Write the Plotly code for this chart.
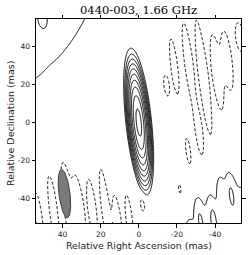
import numpy as np
import plotly.graph_objects as go

# ---- data ----
title_text = "0440-003, 1.66 GHz"
x_title = "Relative Right Ascension (mas)"
y_title = "Relative Declination (mas)"
x_tick_vals = [40, 20, 0, -20, -40]
x_tick_text = ["40", "20", "0", "-20", "-40"]
y_tick_vals = [40, 20, 0, -20, -40]
y_tick_text = ["40", "20", "0", "-20", "-40"]

# contour levels: base * 2^k (solid) and -base (dashed)
base_level = 1.0
n_pos_levels = 10

# image model components: RA, Dec (mas), amplitude (base units), sigma major/minor (mas), PA (deg)
comp_ra   = [0.0,   110.0, -106.0, 50.5,
             -32.2, -39.0, -43.0, -48.4, -27.0,
             -18.5, -14.5, -25.8, -34.0, -41.0, -46.5, -53.0, -31.8, -26.0, -21.5,
             52.5, 45.0, 37.5, 31.0, 24.5, 17.5, 11.0, 4.8, -2.0]
comp_dec  = [0.0,   95.0, -119.7, 55.0,
             -51.0, -50.0, -36.5, -37.0, -54.0,
             30.0, 19.5, 33.0, 23.0, 26.0, 32.5, 45.0, -7.0, -15.5, -35.0,
             -50.0, -45.0, -40.0, -45.0, -45.0, -45.0, -52.0, -52.0, -43.5]
comp_amp  = [650.0, 2.70, 7.39, 2.2,
             1.2, 1.2, 1.2, 1.2, 0.6,
             -2.0, -1.9, -2.0, -2.0, -2.0, -2.0, -2.0, -1.9, -1.9, -1.9,
             -1.9, -1.9, -1.9, -1.9, -1.9, -1.9, -1.9, -1.9, -1.9]
comp_smaj = [10.4, 64.6, 50.0, 3.5,
             7.0, 7.0, 7.0, 7.0, 1.8,
             15.0, 5.8, 20.0, 31.0, 19.0, 14.5, 7.0, 11.0, 7.5, 3.0,
             14.0, 19.0, 22.0, 17.0, 16.0, 22.0, 14.0, 15.0, 3.8]
comp_smin = [1.83, 64.6, 50.0, 1.5,
             1.6, 1.6, 1.6, 1.6, 1.2,
             1.8, 1.4, 2.0, 2.2, 2.2, 2.2, 2.0, 1.6, 1.3, 0.8,
             1.8, 2.0, 2.5, 2.0, 2.0, 2.0, 1.8, 1.8, 1.2]
comp_pa   = [6.0, 0.0, 0.0, 7.0,
             7.0, 7.0, 7.0, 7.0, 7.0,
             7.0, 7.0, 7.0, 7.0, 7.0, 7.0, 7.0, 7.0, 7.0, 7.0,
             7.0, 7.0, 7.0, 7.0, 7.0, 7.0, 7.0, 7.0, 7.0]

# restoring beam
beam_ra, beam_dec = 39.0, -37.4
beam_major, beam_minor, beam_pa = 25.6, 5.8, 7.0

x_range = [53.9, -53.6]
y_range = [-52.9, 54.5]

# ---- image from the components ----
xg = np.arange(-56.0, 56.01, 0.25)
yg = np.arange(-56.0, 56.01, 0.4)
X, Y = np.meshgrid(xg, yg)
Z = np.zeros_like(X)
for ra0, de0, a, smj, smn, pa in zip(comp_ra, comp_dec, comp_amp, comp_smaj, comp_smin, comp_pa):
    t = np.radians(pa)
    dx, dy = X - ra0, Y - de0
    u = dx * np.sin(t) + dy * np.cos(t)
    v = dx * np.cos(t) - dy * np.sin(t)
    Z += a * np.exp(-0.5 * (u ** 2 / smj ** 2 + v ** 2 / smn ** 2))

W = np.log2(np.clip(Z, 1e-6, None) / base_level)
W = np.round(np.clip(W, -12, 12), 3)
Zn = np.round(np.clip(Z, -5, 5), 3)

fig = go.Figure()
fig.add_trace(go.Contour(
    x=xg, y=yg, z=W, showscale=False, hoverinfo="skip",
    contours=dict(start=0, end=n_pos_levels - 1, size=1, coloring="none"),
    line=dict(color="black", width=1.0, smoothing=0.8),
))
fig.add_trace(go.Contour(
    x=xg, y=yg, z=Zn, showscale=False, hoverinfo="skip",
    contours=dict(start=-base_level, end=-base_level * 0.5, size=base_level, coloring="none"),
    line=dict(color="black", width=1.0, dash="3px,2px", smoothing=0.8),
))

tt = np.linspace(0, 2 * np.pi, 80)
pa = np.radians(beam_pa)
a, b = beam_major / 2, beam_minor / 2
bx = beam_ra + a * np.cos(tt) * np.sin(pa) + b * np.sin(tt) * np.cos(pa)
by = beam_dec + a * np.cos(tt) * np.cos(pa) - b * np.sin(tt) * np.sin(pa)
fig.add_trace(go.Scatter(x=bx, y=by, mode="lines", fill="toself",
                         fillcolor="#7a7a7a", line=dict(color="#3a3a3a", width=1),
                         hoverinfo="skip", showlegend=False))

axis_common = dict(showgrid=False, zeroline=False, showline=True, linecolor="black",
                   linewidth=1, mirror="ticks", ticks="outside", ticklen=3.5,
                   tickcolor="black", tickwidth=1, automargin=False,
                   tickfont=dict(family="DejaVu Sans", size=7.5, color="#222"))
fig.update_xaxes(range=x_range, tickvals=x_tick_vals, ticktext=x_tick_text, **axis_common)
fig.update_yaxes(range=y_range, tickvals=y_tick_vals, ticktext=y_tick_text, **axis_common)

fig.add_annotation(text=x_title, xref="paper", yref="paper", x=0.5, y=-0.108,
                   xanchor="center", yanchor="middle", showarrow=False,
                   font=dict(family="DejaVu Sans", size=9.4, color="#222"))
fig.add_annotation(text=y_title, xref="paper", yref="paper", x=-0.127, y=0.49,
                   xanchor="center", yanchor="middle", showarrow=False, textangle=-90,
                   font=dict(family="DejaVu Sans", size=9.5, color="#222"))

fig.update_layout(
    width=250, height=255, margin=dict(l=36, r=9, t=19, b=32, autoexpand=False),
    paper_bgcolor="white", plot_bgcolor="white", showlegend=False,
    title=dict(text=title_text, x=0.5, xref="paper", y=1 - 9.5 / 255, yref="container",
               yanchor="middle", font=dict(family="DejaVu Serif", size=11.5, color="black")),
)
fig.write_html("out.html", config={"displayModeBar": False, "staticPlot": True},
               post_script="document.body.style.margin='0';")
